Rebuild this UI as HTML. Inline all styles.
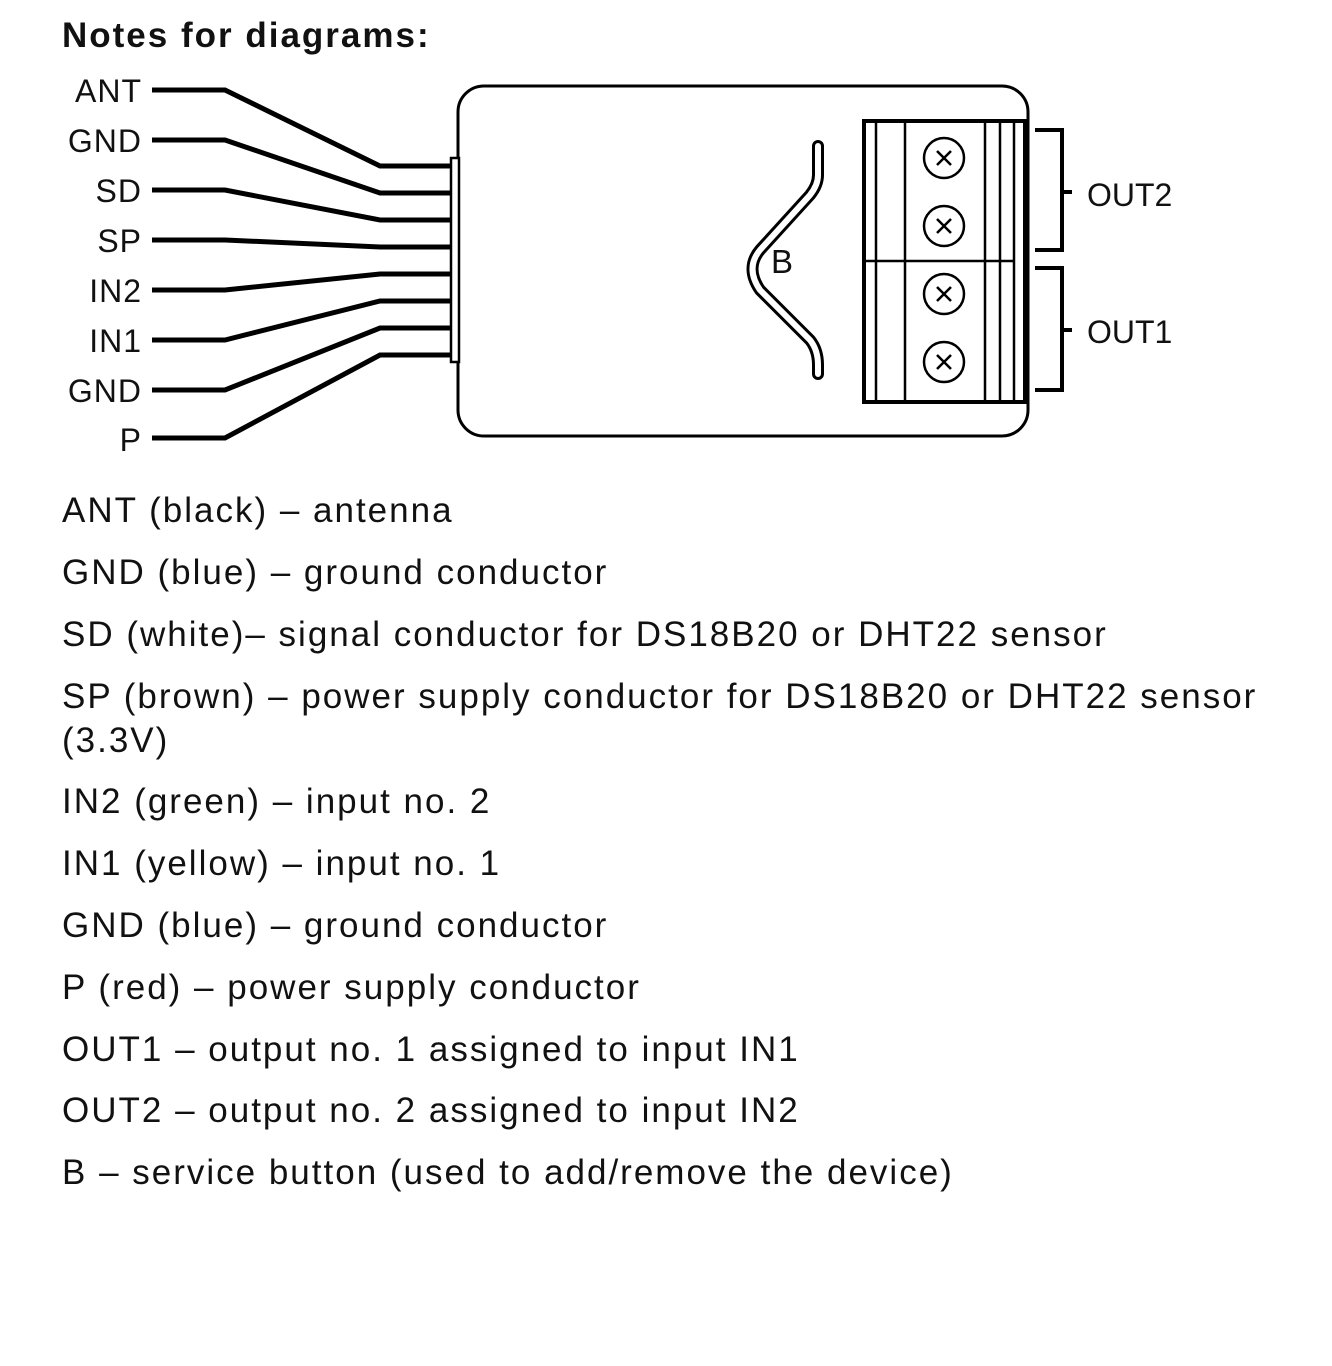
<!DOCTYPE html>
<html><head><style>
body{margin:0;background:#fff;width:1332px;height:1366px;overflow:hidden;font-family:"Liberation Sans",sans-serif;}
.t{position:absolute;left:62px;font-size:35px;letter-spacing:2px;color:#111;white-space:nowrap;}
</style></head><body>
<svg width="1332" height="1366" style="position:absolute;left:0;top:0" font-family="Liberation Sans, sans-serif">
<text x="62" y="47" font-size="35" font-weight="bold" fill="#111" letter-spacing="2">Notes for diagrams:</text>
<g font-size="32" fill="#111" text-anchor="end" letter-spacing="1">
<text x="142" y="102">ANT</text>
<text x="142" y="152">GND</text>
<text x="142" y="202">SD</text>
<text x="142" y="252">SP</text>
<text x="142" y="302">IN2</text>
<text x="142" y="352">IN1</text>
<text x="142" y="402">GND</text>
<text x="142" y="451">P</text>
</g>
<g fill="none" stroke="#000" stroke-width="5">
<polyline points="152,90 225,90 380,166 451,166"/>
<polyline points="152,140 225,140 380,193 451,193"/>
<polyline points="152,190 225,190 380,220 451,220"/>
<polyline points="152,240 225,240 380,247 451,247"/>
<polyline points="152,290 225,290 380,274 451,274"/>
<polyline points="152,340 225,340 380,301 451,301"/>
<polyline points="152,390 225,390 380,328 451,328"/>
<polyline points="152,438 225,438 380,355 451,355"/>
</g>
<rect x="458" y="86" width="570" height="350" rx="26" fill="#fff" stroke="#000" stroke-width="3"/>
<rect x="451" y="158" width="8" height="204" fill="#fff" stroke="#000" stroke-width="2.5"/>
<path d="M818,146 L818,175 Q818,185 810,195 L760,250 Q745,268 760,290 L810,340 Q818,350 818,365 L818,374" fill="none" stroke="#000" stroke-width="12" stroke-linecap="round"/>
<path d="M818,146 L818,175 Q818,185 810,195 L760,250 Q745,268 760,290 L810,340 Q818,350 818,365 L818,374" fill="none" stroke="#fff" stroke-width="6" stroke-linecap="round"/>
<text x="771" y="273" font-size="33" fill="#111">B</text>
<rect x="864" y="121" width="161" height="281" fill="#fff" stroke="#000" stroke-width="4"/>
<g stroke="#000" stroke-width="2.5">
<line x1="876" y1="121" x2="876" y2="402"/>
<line x1="905" y1="121" x2="905" y2="402"/>
<line x1="985" y1="121" x2="985" y2="402"/>
<line x1="1000" y1="121" x2="1000" y2="402"/>
<line x1="1014" y1="121" x2="1014" y2="402"/>
<line x1="864" y1="261" x2="1015" y2="261"/>
</g>
<g fill="none" stroke="#000" stroke-width="2.5">
<circle cx="944" cy="158" r="20"/><circle cx="944" cy="226" r="20"/>
<circle cx="944" cy="294" r="20"/><circle cx="944" cy="362" r="20"/>
</g>
<g stroke="#000" stroke-width="2.5">
<path d="M937,151 l14,14 M951,151 l-14,14"/>
<path d="M937,219 l14,14 M951,219 l-14,14"/>
<path d="M937,287 l14,14 M951,287 l-14,14"/>
<path d="M937,355 l14,14 M951,355 l-14,14"/>
</g>
<g fill="none" stroke="#000" stroke-width="4">
<polyline points="1035,130 1062,130 1062,250 1035,250"/>
<line x1="1062" y1="192" x2="1072" y2="192"/>
<polyline points="1035,268 1062,268 1062,390 1035,390"/>
<line x1="1062" y1="330" x2="1072" y2="330"/>
</g>
<text x="1087" y="206" font-size="32" fill="#111">OUT2</text>
<text x="1087" y="343" font-size="32" fill="#111">OUT1</text>
</svg>
<div class="t" style="top:491px">ANT (black) – antenna</div>
<div class="t" style="top:553px">GND (blue) – ground conductor</div>
<div class="t" style="top:615px">SD (white)– signal conductor for DS18B20 or DHT22 sensor</div>
<div class="t" style="top:677px">SP (brown) – power supply conductor for DS18B20 or DHT22 sensor</div>
<div class="t" style="top:721px">(3.3V)</div>
<div class="t" style="top:782px">IN2 (green) – input no. 2</div>
<div class="t" style="top:844px">IN1 (yellow) – input no. 1</div>
<div class="t" style="top:906px">GND (blue) – ground conductor</div>
<div class="t" style="top:968px">P (red) – power supply conductor</div>
<div class="t" style="top:1030px">OUT1 – output no. 1 assigned to input IN1</div>
<div class="t" style="top:1091px">OUT2 – output no. 2 assigned to input IN2</div>
<div class="t" style="top:1153px">B – service button (used to add/remove the device)</div>
</body></html>
